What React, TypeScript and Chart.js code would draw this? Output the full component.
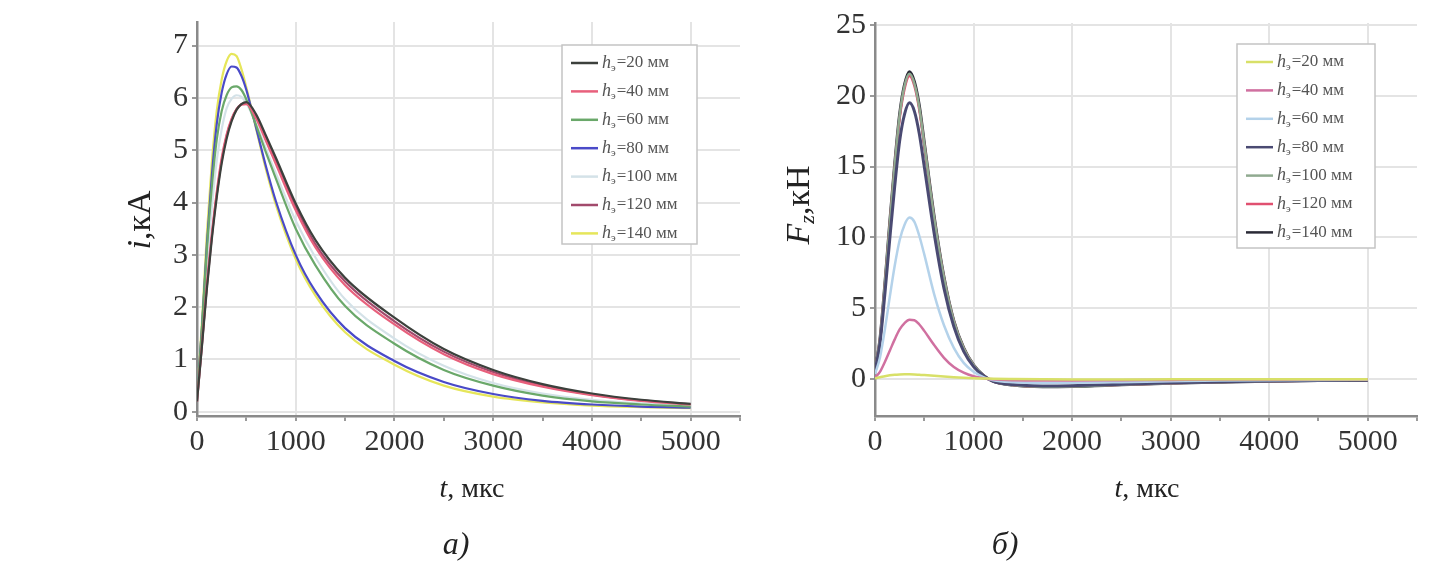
import React, { useEffect, useRef } from "react";
import { Chart, registerables } from "chart.js";

Chart.register(...registerables);

// ---------- data: chart a) current i, kA ----------
const T_I = [0, 50, 100, 150, 200, 250, 300, 350, 400, 450, 500, 600, 700, 800, 1000, 1200, 1500, 2000, 2500, 3000, 3500, 4000, 4500, 5000];
const I_20 = [0.2, 1.25, 2.35, 3.3, 4.1, 4.75, 5.22, 5.55, 5.77, 5.88, 5.92, 5.68, 5.27, 4.85, 3.98, 3.28, 2.56, 1.8, 1.2, 0.8, 0.53, 0.35, 0.23, 0.15];
const I_40 = [0.2, 1.3, 2.45, 3.4, 4.2, 4.85, 5.3, 5.6, 5.78, 5.87, 5.88, 5.6, 5.17, 4.73, 3.85, 3.14, 2.42, 1.67, 1.1, 0.72, 0.48, 0.32, 0.21, 0.14];
const I_60 = [0.25, 1.6, 3.1, 4.3, 5.2, 5.75, 6.05, 6.2, 6.22, 6.15, 5.97, 5.47, 4.95, 4.45, 3.5, 2.8, 2.02, 1.3, 0.8, 0.5, 0.31, 0.2, 0.14, 0.1];
const I_80 = [0.25, 1.6, 3.2, 4.5, 5.5, 6.1, 6.45, 6.6, 6.58, 6.42, 6.15, 5.42, 4.68, 4.02, 3.0, 2.3, 1.6, 0.97, 0.57, 0.34, 0.21, 0.14, 0.1, 0.08];
const I_100 = [0.22, 1.45, 2.8, 3.9, 4.8, 5.4, 5.8, 5.98, 6.05, 6.02, 5.9, 5.5, 5.02, 4.55, 3.65, 2.95, 2.15, 1.4, 0.88, 0.55, 0.35, 0.23, 0.16, 0.11];
const I_120 = [0.2, 1.28, 2.4, 3.35, 4.15, 4.8, 5.27, 5.58, 5.78, 5.88, 5.9, 5.64, 5.22, 4.79, 3.92, 3.2, 2.49, 1.73, 1.15, 0.76, 0.5, 0.33, 0.22, 0.14];
const I_140 = [0.25, 1.7, 3.4, 4.75, 5.75, 6.35, 6.7, 6.84, 6.8, 6.55, 6.2, 5.4, 4.62, 3.95, 2.92, 2.22, 1.52, 0.9, 0.5, 0.29, 0.18, 0.12, 0.09, 0.07];

// ---------- data: chart б) force Fz, kN ----------
const T_F = [0, 50, 100, 150, 200, 250, 300, 350, 400, 450, 500, 600, 700, 800, 900, 1000, 1100, 1200, 1400, 1700, 2000, 2500, 3000, 3500, 4000, 4500, 5000];
const F_20 = [0.05, 0.12, 0.2, 0.26, 0.3, 0.32, 0.33, 0.33, 0.32, 0.3, 0.28, 0.23, 0.18, 0.13, 0.09, 0.06, 0.04, 0.02, 0.0, -0.02, -0.03, -0.03, -0.02, -0.02, -0.01, -0.01, -0.01];
const F_40 = [0.1, 0.5, 1.2, 2.0, 2.8, 3.5, 3.95, 4.18, 4.15, 3.85, 3.4, 2.4, 1.5, 0.85, 0.45, 0.2, 0.06, -0.02, -0.08, -0.1, -0.1, -0.08, -0.06, -0.04, -0.03, -0.02, -0.02];
const F_60 = [0.35, 1.5, 3.5, 5.8, 8.0, 9.8, 10.9, 11.4, 11.1, 10.1, 8.8, 6.0, 3.8, 2.2, 1.14, 0.51, 0.14, -0.09, -0.23, -0.28, -0.27, -0.22, -0.16, -0.11, -0.08, -0.06, -0.05];
const F_80 = [0.55, 2.5, 6.0, 9.9, 13.6, 16.8, 18.7, 19.5, 18.9, 17.3, 15.0, 10.3, 6.4, 3.7, 1.95, 0.88, 0.23, -0.16, -0.39, -0.49, -0.47, -0.37, -0.27, -0.2, -0.14, -0.1, -0.08];
const F_100 = [0.6, 2.78, 6.65, 11.0, 15.1, 18.6, 20.7, 21.55, 20.85, 19.15, 16.6, 11.4, 7.15, 4.08, 2.18, 0.99, 0.26, -0.17, -0.43, -0.54, -0.52, -0.41, -0.3, -0.22, -0.15, -0.11, -0.09];
const F_120 = [0.6, 2.75, 6.6, 10.9, 15.0, 18.4, 20.5, 21.4, 20.7, 19.0, 16.5, 11.3, 7.1, 4.05, 2.15, 0.98, 0.25, -0.17, -0.42, -0.53, -0.51, -0.4, -0.3, -0.21, -0.15, -0.11, -0.09];
const F_140 = [0.6, 2.8, 6.7, 11.1, 15.2, 18.7, 20.8, 21.7, 21.0, 19.3, 16.7, 11.5, 7.2, 4.1, 2.2, 1.0, 0.26, -0.17, -0.43, -0.54, -0.52, -0.41, -0.3, -0.22, -0.15, -0.11, -0.09];

// ---------- labels & ticks ----------
const SERIES_H = ["20", "40", "60", "80", "100", "120", "140"];
const X_TICKS = [0, 500, 1000, 1500, 2000, 2500, 3000, 3500, 4000, 4500, 5000, 5500];
const X_LABELED = [0, 1000, 2000, 3000, 4000, 5000];
const Y_TICKS_I = [0, 1, 2, 3, 4, 5, 6, 7];
const Y_TICKS_F = [0, 5, 10, 15, 20, 25];

const COLORS_I = ["#3c403c", "#e8607c", "#6aa86a", "#4a4ac8", "#d4e2e8", "#a24a6c", "#e6e65a"];
const COLORS_F = ["#d8e068", "#d070a0", "#b4d2ea", "#4a4a72", "#90aa90", "#e05070", "#2a2a36"];

const SERIF = "'Liberation Serif', 'DejaVu Serif', serif";

type Run = { t: string; f: string; dy?: number };

function drawRuns(ctx: CanvasRenderingContext2D, runs: Run[], cx: number, cy: number) {
  let total = 0;
  for (const r of runs) {
    ctx.font = r.f;
    total += ctx.measureText(r.t).width;
  }
  let x = cx - total / 2;
  ctx.textAlign = "left";
  ctx.textBaseline = "middle";
  for (const r of runs) {
    ctx.font = r.f;
    ctx.fillText(r.t, x, cy + (r.dy || 0));
    x += ctx.measureText(r.t).width;
  }
}

const decorPlugin = {
  id: "decor",
  afterDraw(chart: any, _args: any, opts: any) {
    const ctx: CanvasRenderingContext2D = chart.ctx;
    const area = chart.chartArea;
    ctx.save();
    // legend box
    const bx = area.right - opts.legRight - opts.legW;
    const by = area.top + opts.legTop;
    ctx.fillStyle = "#ffffff";
    ctx.fillRect(bx, by, opts.legW, opts.legH);
    ctx.strokeStyle = "#c4c4c4";
    ctx.lineWidth = 1.5;
    ctx.strokeRect(bx, by, opts.legW, opts.legH);
    chart.data.datasets.forEach((ds: any, i: number) => {
      const yy = by + 18 + i * 28.4;
      ctx.strokeStyle = ds.borderColor;
      ctx.lineWidth = 2.5;
      ctx.beginPath();
      ctx.moveTo(bx + 9, yy);
      ctx.lineTo(bx + 36, yy);
      ctx.stroke();
      ctx.fillStyle = "#555";
      ctx.textAlign = "left";
      ctx.textBaseline = "middle";
      let x = bx + 40;
      ctx.font = "italic 18px " + SERIF;
      ctx.fillText("h", x, yy);
      x += ctx.measureText("h").width;
      ctx.font = "11px " + SERIF;
      ctx.fillText("э", x, yy + 5);
      x += ctx.measureText("э").width + 1;
      ctx.font = "17px " + SERIF;
      ctx.fillText("=" + SERIES_H[i] + " мм", x, yy);
    });
    // axis titles
    ctx.fillStyle = "#222";
    ctx.save();
    ctx.translate(opts.yTitleX, opts.yTitleY);
    ctx.rotate(-Math.PI / 2);
    drawRuns(ctx, opts.yTitleRuns, 0, 0);
    ctx.restore();
    drawRuns(ctx, [
      { t: "t", f: "italic 28px " + SERIF },
      { t: ", мкс", f: "28px " + SERIF },
    ], opts.xTitleX, opts.xTitleY);
    drawRuns(ctx, [{ t: opts.caption, f: "italic 32px " + SERIF }], opts.capX, opts.capY);
    ctx.restore();
  },
};

function buildConfig(p: {
  t: number[];
  series: number[][];
  colors: string[];
  widths: number[];
  yMin: number;
  yMax: number;
  yTicks: number[];
  yWidth: number;
  padTop: number;
  padRight: number;
  decor: any;
}) {
  return {
    type: "line",
    data: {
      datasets: p.series.map((vals, i) => ({
        label: SERIES_H[i],
        data: vals.map((v, k) => ({ x: p.t[k], y: v })),
        borderColor: p.colors[i],
        backgroundColor: p.colors[i],
        borderWidth: p.widths[i],
        pointRadius: 0,
        fill: false,
        tension: 0.4,
        cubicInterpolationMode: "monotone",
      })),
    },
    options: {
      responsive: false,
      animation: false,
      devicePixelRatio: 1,
      layout: { padding: { top: p.padTop, right: p.padRight, left: 0, bottom: 0 } },
      plugins: {
        legend: { display: false },
        tooltip: { enabled: false },
        decor: p.decor,
      },
      scales: {
        x: {
          type: "linear",
          min: 0,
          max: 5500,
          afterBuildTicks: (s: any) => {
            s.ticks = X_TICKS.map((v) => ({ value: v }));
          },
          afterFit: (s: any) => {
            s.height = 148;
          },
          grid: {
            color: (c: any) => (c.tick && X_LABELED.includes(c.tick.value) ? "#e4e4e4" : "rgba(0,0,0,0)"),
            lineWidth: 2,
            tickColor: "#9a9a9a",
            tickLength: 5,
          },
          border: { color: "#8a8a8a", width: 2.5 },
          ticks: {
            callback: (v: number) => (X_LABELED.includes(v) ? String(v) : ""),
            font: { family: SERIF, size: 30 },
            color: "#333",
            maxRotation: 0,
            autoSkip: false,
            padding: 3,
          },
        },
        y: {
          type: "linear",
          min: p.yMin,
          max: p.yMax,
          afterBuildTicks: (s: any) => {
            s.ticks = p.yTicks.map((v) => ({ value: v }));
          },
          afterFit: (s: any) => {
            s.width = p.yWidth;
          },
          grid: { color: "#e4e4e4", lineWidth: 2, tickColor: "#9a9a9a", tickLength: 5 },
          border: { color: "#8a8a8a", width: 2.5 },
          ticks: {
            font: { family: SERIF, size: 30 },
            color: "#333",
            padding: 4,
            autoSkip: false,
          },
        },
      },
    },
    plugins: [decorPlugin],
  };
}

export default function App() {
  const ref1 = useRef<HTMLCanvasElement>(null);
  const ref2 = useRef<HTMLCanvasElement>(null);

  useEffect(() => {
    document.body.style.margin = "0";
    const c1 = new Chart(
      ref1.current as HTMLCanvasElement,
      buildConfig({
        t: T_I,
        series: [I_20, I_40, I_60, I_80, I_100, I_120, I_140],
        colors: COLORS_I,
        widths: [2.2, 2.2, 2.2, 2.2, 2.2, 2.2, 2.2],
        yMin: -0.08,
        yMax: 7.45,
        yTicks: Y_TICKS_I,
        yWidth: 197,
        padTop: 20,
        padRight: 20,
        decor: {
          legRight: 43,
          legTop: 23,
          legW: 135,
          legH: 199,
          yTitleX: 141,
          yTitleY: 220,
          yTitleRuns: [
            { t: "i", f: "italic 34px " + SERIF },
            { t: ",кА", f: "34px " + SERIF },
          ],
          xTitleX: 472,
          xTitleY: 490,
          caption: "а)",
          capX: 456,
          capY: 546,
        },
      }) as any
    );
    const c2 = new Chart(
      ref2.current as HTMLCanvasElement,
      buildConfig({
        t: T_F,
        series: [F_20, F_40, F_60, F_80, F_100, F_120, F_140],
        colors: COLORS_F,
        widths: [2.5, 2.5, 2.5, 3, 2.5, 2.5, 3],
        yMin: -2.61,
        yMax: 25.14,
        yTicks: Y_TICKS_F,
        yWidth: 115,
        padTop: 23,
        padRight: 12,
        decor: {
          legRight: 42,
          legTop: 21,
          legW: 138,
          legH: 204,
          yTitleX: 40,
          yTitleY: 205,
          yTitleRuns: [
            { t: "F", f: "italic 34px " + SERIF },
            { t: "z", f: "italic 22px " + SERIF, dy: 8 },
            { t: ",кН", f: "34px " + SERIF },
          ],
          xTitleX: 387,
          xTitleY: 490,
          caption: "б)",
          capX: 245,
          capY: 546,
        },
      }) as any
    );
    return () => {
      c1.destroy();
      c2.destroy();
    };
  }, []);

  return (
    <div style={{ position: "relative", width: 1429, height: 564, background: "#fff", overflow: "hidden" }}>
      <canvas ref={ref1} width={760} height={564} style={{ position: "absolute", left: 0, top: 0 }} />
      <canvas ref={ref2} width={669} height={564} style={{ position: "absolute", left: 760, top: 0 }} />
    </div>
  );
}
